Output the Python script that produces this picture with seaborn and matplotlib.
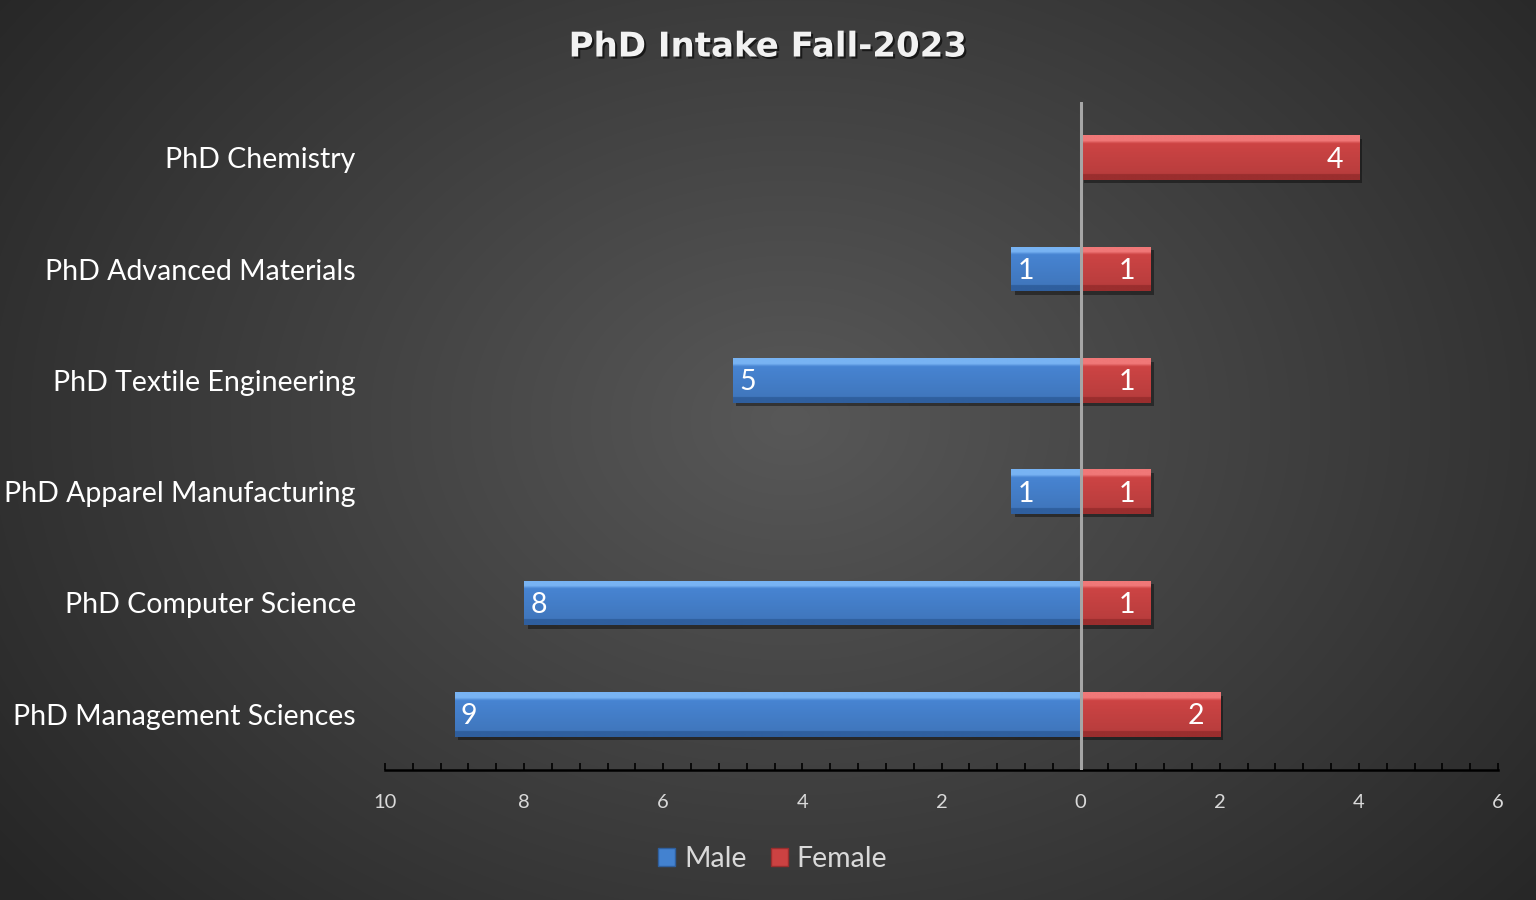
import numpy as np
import pandas as pd
import matplotlib
matplotlib.use("Agg")
import matplotlib.pyplot as plt
import matplotlib.patheffects as pe
from matplotlib.patches import Patch
from matplotlib.ticker import MultipleLocator, FuncFormatter
import seaborn as sns

# ---- data ----
programs = ["PhD Chemistry", "PhD Advanced Materials", "PhD Textile Engineering",
            "PhD Apparel Manufacturing", "PhD Computer Science", "PhD Management Sciences"]
male = [0, 1, 5, 1, 8, 9]
female = [4, 1, 1, 1, 1, 2]
genders = ["Male", "Female"]
title = "PhD Intake Fall-2023"

rows = []
for p, m, f in zip(programs, male, female):
    if m:
        rows.append({"Program": p, "Gender": "Male", "Value": -m})
    if f:
        rows.append({"Program": p, "Gender": "Female", "Value": f})
df = pd.DataFrame(rows)

sns.set_theme(style="dark")
plt.rcParams["font.family"] = ["Lato", "DejaVu Sans"]

BLUE = "#4382d0"
RED = "#cc4242"
TXT = "#d9d9d9"

fig = plt.figure(figsize=(15.36, 9.0), dpi=100)

# background radial gradient
bg = fig.add_axes([0, 0, 1, 1], zorder=-10)
yy, xx = np.mgrid[0:900, 0:1536]
r = np.sqrt(((xx - 790) / 1000.0) ** 2 + ((yy - 420) / 750.0) ** 2)
r = np.clip(r, 0, 1)
c0 = np.array([0x58, 0x58, 0x58]) / 255.0
c1 = np.array([0x26, 0x26, 0x26]) / 255.0
img = c0[None, None, :] * (1 - r[..., None]) + c1[None, None, :] * r[..., None]
bg.imshow(img, aspect="auto", extent=(0, 1, 0, 1))
bg.set_axis_off()

ax = fig.add_axes([385 / 1536, 1 - 770 / 900, (1498 - 385) / 1536, (770 - 102) / 900])
ax.patch.set_alpha(0)

sns.barplot(data=df, y="Program", x="Value", hue="Gender", hue_order=genders,
            order=programs, palette={"Male": BLUE, "Female": RED},
            dodge=False, orient="h", width=0.4, ax=ax, legend=False,
            edgecolor="none", linewidth=0, zorder=3)


def grad_colors(base, light, dark):
    n = 60
    t = np.linspace(0, 1, n)
    cols = np.zeros((n, 1, 3))
    b = np.array(matplotlib.colors.to_rgb(base))
    l = np.array(matplotlib.colors.to_rgb(light))
    d = np.array(matplotlib.colors.to_rgb(dark))
    for i, v in enumerate(t):
        if v < 0.12:
            c = l
        elif v < 0.18:
            c = l * (0.18 - v) / 0.06 + b * (v - 0.12) / 0.06
        elif v < 0.88:
            c = b * (0.88 - v) / 0.7 + (b * 0.9) * (v - 0.18) / 0.7
        else:
            c = d
        cols[i, 0, :] = c
    return cols


grads = {
    "Male": grad_colors("#4784d2", "#78b3f3", "#2f5f9e"),
    "Female": grad_colors("#cd4444", "#f07878", "#9a2e2e"),
}

shadow = [pe.SimplePatchShadow(offset=(2.5, -2.5), shadow_rgbFace="black", alpha=0.4), pe.Normal()]

for cont, g in zip(ax.containers, genders):
    for patch in cont:
        w = patch.get_width()
        if w == 0:
            continue
        x0 = patch.get_x()
        y0 = patch.get_y()
        h = patch.get_height()
        patch.set_path_effects(shadow)
        left, right = min(x0, x0 + w), max(x0, x0 + w)
        im = ax.imshow(grads[g], extent=(left, right, y0 + h, y0), aspect="auto",
                       zorder=3.5, interpolation="bilinear")
        im.set_clip_path(patch)
        val = int(round(abs(w)))
        if w < 0:
            ax.annotate(str(val), (left, y0 + h / 2), xytext=(4.5, -1.5),
                        textcoords="offset points", ha="left", va="center",
                        color="white", fontsize=20.5, zorder=5)
        else:
            ax.annotate(str(val), (right, y0 + h / 2), xytext=(-11, -1.5),
                        textcoords="offset points", ha="right", va="center",
                        color="white", fontsize=20.5, zorder=5)

ax.set_xlim(-10, 6)
ax.set_ylim(5.5, -0.5)
ax.axvline(0, color="#a6a6a6", lw=2.2, zorder=4)

ax.xaxis.set_major_locator(MultipleLocator(2))
ax.xaxis.set_minor_locator(MultipleLocator(0.4))
ax.xaxis.set_major_formatter(FuncFormatter(lambda v, p: f"{abs(v):g}"))
ax.tick_params(axis="x", which="both", direction="in", length=5, width=1.2,
               color="black", bottom=True, labelcolor=TXT, labelsize=14.5, pad=17)
ax.tick_params(axis="y", which="both", length=0, labelcolor="white", labelsize=20.5, pad=21)

for s in ["top", "right", "left"]:
    ax.spines[s].set_visible(False)
ax.spines["bottom"].set_visible(True)
ax.spines["bottom"].set_color("black")
ax.spines["bottom"].set_linewidth(1.8)
ax.set_xlabel("")
ax.set_ylabel("")
ax.grid(False)

fig.text(0.5, 1 - 47 / 900, title, ha="center", va="center", color="#f2f2f2",
         fontsize=24.5, fontweight="bold", family=["DejaVu Sans"],
         path_effects=[pe.withSimplePatchShadow(offset=(1.5, -1.5), shadow_rgbFace="black", alpha=0.6)])

handles = [Patch(facecolor=BLUE, edgecolor="#2f5f9e"), Patch(facecolor=RED, edgecolor="#9a2e2e")]
leg = fig.legend(handles, genders, loc="center", bbox_to_anchor=(0.503, 1 - 859 / 900),
                 ncol=2, frameon=False, fontsize=20.5, handlelength=0.6, handleheight=0.6,
                 handletextpad=0.3, columnspacing=0.85)
for t in leg.get_texts():
    t.set_color(TXT)

fig.savefig("out.png", dpi=100)
